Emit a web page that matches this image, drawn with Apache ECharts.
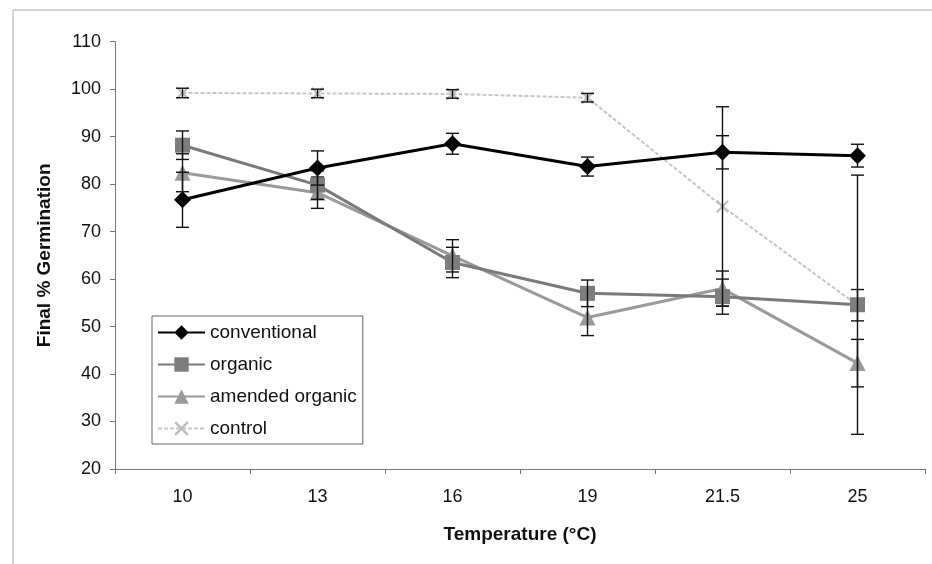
<!DOCTYPE html>
<html>
<head>
<meta charset="utf-8">
<script src="https://cdn.jsdelivr.net/npm/echarts@6/dist/echarts.min.js"></script>
<style>
html,body{margin:0;padding:0;background:#fff;}
#chart{width:932px;height:564px;}
</style>
</head>
<body>
<div id="chart"></div>
<script>
var categories = ['10', '13', '16', '19', '21.5', '25'];
var conventional = [76.7, 83.4, 88.5, 83.7, 86.7, 86.0];
var conventionalErr = [5.8, 3.6, 2.2, 2.0, 3.5, 2.4];
var organic = [88.2, 79.8, 63.5, 57.0, 56.3, 54.6];
var organicErr = [3.0, 3.0, 3.2, 2.8, 3.7, 27.3];
var amended = [82.4, 78.2, 64.9, 51.9, 58.0, 42.3];
var amendedErr = [4.0, 3.3, 3.4, 3.8, 3.7, 5.0];
var control = [99.2, 99.1, 99.0, 98.2, 75.3, 54.5];
var controlErr = [1.0, 0.9, 0.9, 0.9, 21.0, 3.3];
var yTicks = {min: 20, max: 110, step: 10};

var FONT = 'Arial, "Liberation Sans", sans-serif';

function errData(vals, errs) {
  return vals.map(function (v, i) { return [i, v - errs[i], v + errs[i]]; });
}
function errSeries(name, vals, errs, z) {
  return {
    type: 'custom',
    name: name + ' err',
    z: z,
    silent: true,
    data: errData(vals, errs),
    encode: {x: 0, y: [1, 2]},
    renderItem: function (params, api) {
      var x = api.value(0);
      var lo = api.coord([x, api.value(1)]);
      var hi = api.coord([x, api.value(2)]);
      var hw = 6.5;
      var st = {stroke: '#111', lineWidth: 1.4};
      return {
        type: 'group',
        children: [
          {type: 'line', shape: {x1: lo[0], y1: lo[1], x2: hi[0], y2: hi[1]}, style: st},
          {type: 'line', shape: {x1: lo[0] - hw, y1: lo[1], x2: lo[0] + hw, y2: lo[1]}, style: st},
          {type: 'line', shape: {x1: hi[0] - hw, y1: hi[1], x2: hi[0] + hw, y2: hi[1]}, style: st}
        ]
      };
    }
  };
}

var xSymbol = 'path://M0,1.2L1.2,0L5,3.8L8.8,0L10,1.2L6.2,5L10,8.8L8.8,10L5,6.2L1.2,10L0,8.8L3.8,5Z';

var chart = echarts.init(document.getElementById('chart'));
chart.setOption({
  backgroundColor: '#fff',
  animation: false,
  graphic: [{
    type: 'rect',
    shape: {x: 13, y: 10, width: 1000, height: 1000},
    style: {fill: 'none', stroke: '#aaa', lineWidth: 1},
    silent: true,
    z: -10
  }],
  grid: {left: 115, right: 7, top: 41.7, bottom: 95, containLabel: false},
  legend: {
    orient: 'vertical',
    left: 152,
    top: 316,
    padding: [7, 6, 6, 5],
    itemGap: 13,
    itemWidth: 47,
    itemHeight: 18,
    borderColor: '#666',
    borderWidth: 1,
    backgroundColor: '#fff',
    data: ['conventional', 'organic', 'amended organic', 'control'],
    textStyle: {fontFamily: FONT, fontSize: 19, color: '#111', lineHeight: 19, padding: [0, 0, 0, 0]}
  },
  xAxis: {
    type: 'category',
    data: categories,
    boundaryGap: true,
    name: 'Temperature (°C)',
    nameLocation: 'middle',
    nameGap: 56,
    nameTextStyle: {fontFamily: FONT, fontSize: 19, fontWeight: 'bold', color: '#111'},
    axisLine: {lineStyle: {color: '#777', width: 1}},
    axisTick: {show: true, alignWithLabel: false, length: 5, lineStyle: {color: '#777'}},
    axisLabel: {fontFamily: FONT, fontSize: 18, color: '#111', margin: 19},
    splitLine: {show: false}
  },
  yAxis: {
    type: 'value',
    min: yTicks.min,
    max: yTicks.max,
    interval: yTicks.step,
    name: 'Final % Germination',
    nameLocation: 'middle',
    nameGap: 61,
    nameRotate: 90,
    nameTextStyle: {fontFamily: FONT, fontSize: 19, fontWeight: 'bold', color: '#111'},
    axisLine: {show: true, lineStyle: {color: '#777', width: 1}},
    axisTick: {show: true, length: 5, lineStyle: {color: '#777'}},
    axisLabel: {fontFamily: FONT, fontSize: 18, color: '#111', margin: 14},
    splitLine: {show: false}
  },
  series: [
    {
      name: 'control',
      type: 'line',
      data: control,
      z: 2,
      symbol: xSymbol,
      symbolSize: 13,
      lineStyle: {color: '#c6c6c6', width: 2, type: [4, 2]},
      itemStyle: {color: '#bdbdbd'}
    },
    errSeries('control', control, controlErr, 3),
    {
      name: 'amended organic',
      type: 'line',
      data: amended,
      z: 4,
      symbol: 'triangle',
      symbolSize: 16,
      lineStyle: {color: '#9a9a9a', width: 3},
      itemStyle: {color: '#999'}
    },
    errSeries('amended organic', amended, amendedErr, 5),
    {
      name: 'organic',
      type: 'line',
      data: organic,
      z: 6,
      symbol: 'rect',
      symbolSize: 15,
      lineStyle: {color: '#7a7a7a', width: 3},
      itemStyle: {color: '#7d7d7d'}
    },
    errSeries('organic', organic, organicErr, 7),
    {
      name: 'conventional',
      type: 'line',
      data: conventional,
      z: 8,
      symbol: 'diamond',
      symbolSize: 17,
      lineStyle: {color: '#000', width: 3},
      itemStyle: {color: '#000'}
    },
    errSeries('conventional', conventional, conventionalErr, 9)
  ]
});
</script>
</body>
</html>
